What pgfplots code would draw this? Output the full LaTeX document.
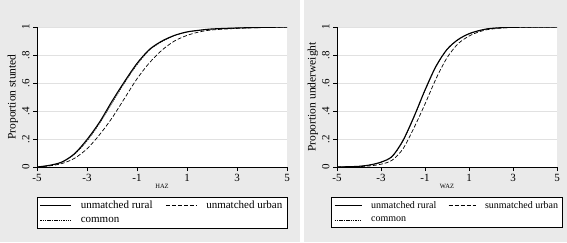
\documentclass[border=0pt]{standalone}
\usepackage{pgfplots}
\pgfplotsset{compat=1.18}
\usepackage{fontspec}
\setmainfont{Liberation Serif}
\definecolor{panel}{RGB}{234,234,234}
\definecolor{gridc}{RGB}{225,225,225}

\pgfplotstableread{
x rural urban common
-5 0 0 0
-4.5 0.012 0.008 0.011
-4 0.036 0.025 0.034
-3.5 0.095 0.062 0.09
-3 0.196 0.13 0.185
-2.5 0.32 0.23 0.31
-2 0.47 0.35 0.455
-1.5 0.61 0.49 0.60
-1 0.74 0.63 0.73
-0.5 0.84 0.745 0.835
0 0.90 0.835 0.895
0.5 0.94 0.90 0.938
1 0.965 0.94 0.963
1.5 0.977 0.965 0.976
2 0.986 0.979 0.985
3 0.993 0.99 0.993
4 0.997 0.996 0.997
5 1 1 1
}\haz

\pgfplotstableread{
x rural urban common
-5 0 0 0
-4.5 0.002 0.001 0.002
-4 0.005 0.003 0.005
-3.5 0.015 0.008 0.014
-3 0.035 0.02 0.033
-2.5 0.075 0.048 0.072
-2 0.19 0.13 0.185
-1.5 0.36 0.28 0.355
-1 0.55 0.45 0.545
-0.5 0.72 0.63 0.715
0 0.84 0.78 0.838
0.5 0.91 0.88 0.908
1 0.952 0.935 0.95
1.5 0.976 0.968 0.975
2 0.99 0.985 0.99
3 0.998 0.997 0.998
5 1 1 1
}\waz

\pgfplotsset{
  cdfstyle/.style={
    scale only axis,
    height=140pt,
    xmin=-5, xmax=5, ymin=0, ymax=1,
    axis x line*=bottom, axis y line*=left,
    axis line style={black, line width=0.5pt},
    axis background/.style={fill=white},
    xtick={-5,-3,-1,1,3,5},
    ytick={0,0.2,0.4,0.6,0.8,1},
    yticklabels={0,.2,.4,.6,.8,1},
    ymajorgrids, grid style={gridc, line width=0.6pt},
    tick align=outside, tick style={black, line width=0.5pt},
    major tick length=4pt,
    /pgf/number format/assume math mode=true,
    ticklabel style={font=\fontsize{11}{13}\selectfont},
    yticklabel style={rotate=90, anchor=south},
    xticklabel style={yshift=0pt},
    xlabel style={font=\fontsize{6.5}{8}\selectfont, yshift=5pt},
    ylabel style={font=\fontsize{11.5}{13}\selectfont, yshift=-3pt},
    legend columns=2,
    legend cell align=left,
    legend style={draw=black, fill=white, line width=0.5pt,
      at={(0.5,-0.214)}, anchor=north,
      /tikz/every odd column/.append style={column sep=7pt},
      /tikz/every even column/.append style={column sep=11pt},
      row sep=3pt, inner xsep=2.5pt, inner ysep=2pt},
  },
  rur/.style={black, line width=1.1pt},
  urb/.style={black, line width=0.7pt, dash pattern=on 4pt off 2pt},
  com/.style={black, line width=0.45pt, dash pattern=on 1.5pt off 0.8pt},
}

\begin{document}
\begin{tikzpicture}
\fill[white] (0pt,0pt) rectangle (567pt,242pt);
\fill[panel] (0pt,0pt) rectangle (300pt,242pt);
\fill[panel] (304pt,0pt) rectangle (567pt,242pt);
\useasboundingbox (0pt,0pt) rectangle (567pt,242pt);

\begin{axis}[cdfstyle, width=250pt, at={(37pt,75pt)}, anchor=south west,
  xlabel={HAZ}, ylabel={Proportion stunted},
  legend style={font=\fontsize{11}{13}\selectfont},
  legend image code/.code={\draw[#1] (0pt,0pt) -- (31pt,0pt);}]
\addplot[rur, smooth] table[x=x, y=rural] {\haz};
\addplot[urb, smooth] table[x=x, y=urban] {\haz};
\addplot[com, smooth] table[x=x, y=common] {\haz};
\legend{unmatched rural, unmatched urban, common}
\end{axis}

\begin{axis}[cdfstyle, width=220pt, at={(337pt,75pt)}, anchor=south west,
  xlabel={WAZ}, ylabel={Proportion underweight},
  legend style={font=\fontsize{10}{12}\selectfont,
    /tikz/every even column/.append style={column sep=10pt}},
  legend image code/.code={\draw[#1] (0pt,0pt) -- (27pt,0pt);}]
\addplot[rur, smooth] table[x=x, y=rural] {\waz};
\addplot[urb, smooth] table[x=x, y=urban] {\waz};
\addplot[com, smooth] table[x=x, y=common] {\waz};
\legend{unmatched rural, sunmatched urban, common}
\end{axis}
\end{tikzpicture}
\end{document}
